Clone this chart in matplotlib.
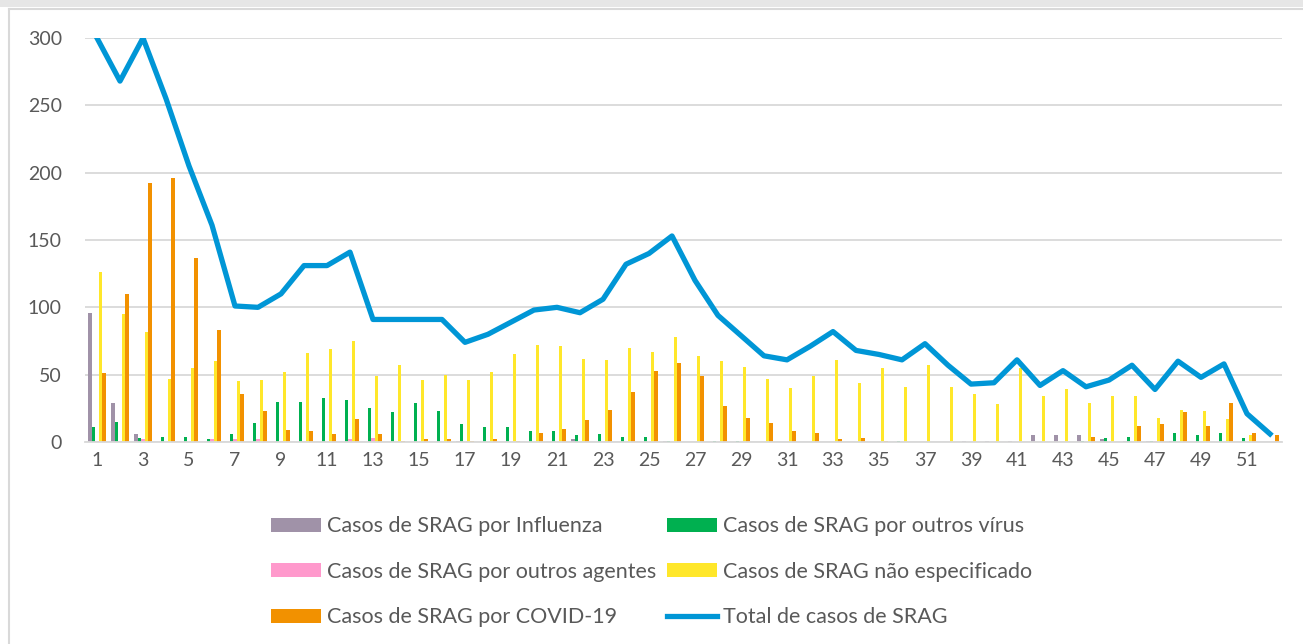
import numpy as np
import matplotlib
matplotlib.use("Agg")
import matplotlib.pyplot as plt
from matplotlib.lines import Line2D
from matplotlib.patches import Patch, Rectangle

plt.rcParams['font.family'] = ['Lato', 'DejaVu Sans']

# semanas epidemiológicas
semanas = list(range(1, 53))

influenza = [96, 29, 6, 0, 0, 0, 0, 0, 0, 0, 0, 0, 0, 0, 0, 0, 1, 0, 0, 0,
             0, 2, 0, 0, 0, 1, 0, 0, 0, 0, 0, 0, 0, 0, 0, 0, 0, 0, 1, 1,
             1, 5, 5, 5, 2, 1, 1, 1, 0, 0, 0, 0]
outros_virus = [11, 15, 3, 4, 4, 2, 6, 14, 30, 30, 33, 31, 25, 22, 29, 23, 13, 11, 11, 8,
                8, 5, 6, 4, 4, 1, 0, 1, 1, 0, 0, 0, 0, 0, 0, 1, 0, 0, 0, 0,
                0, 0, 0, 1, 3, 4, 1, 7, 5, 7, 3, 0]
outros_agentes = [1, 1, 2, 0, 0, 2, 2, 2, 1, 1, 0, 2, 3, 0, 0, 0, 0, 0, 0, 0,
                  0, 0, 1, 0, 0, 0, 0, 0, 0, 0, 0, 0, 0, 0, 0, 0, 0, 0, 0, 0,
                  0, 0, 0, 0, 0, 0, 1, 0, 0, 0, 0, 0]
nao_especificado = [126, 95, 82, 47, 55, 60, 45, 46, 52, 66, 69, 75, 49, 57, 46, 50, 46, 52, 65, 72,
                    71, 62, 61, 70, 67, 78, 64, 60, 56, 47, 40, 49, 61, 44, 55, 41, 57, 41, 36, 28,
                    55, 34, 39, 29, 34, 34, 18, 24, 23, 17, 5, 0]
covid = [51, 110, 192, 196, 137, 83, 36, 23, 9, 8, 6, 17, 6, 1, 2, 2, 1, 2, 1, 7,
         10, 16, 24, 37, 53, 59, 49, 27, 18, 14, 8, 7, 2, 3, 1, 0, 0, 0, 0, 0,
         0, 0, 0, 4, 0, 12, 13, 22, 12, 29, 7, 5]
total = [300, 268, 300, 255, 205, 161, 101, 100, 110, 131, 131, 141, 91, 91, 91, 91, 74, 80, 89, 98,
         100, 96, 106, 132, 140, 153, 120, 94, 79, 64, 61, 71, 82, 68, 65, 61, 73, 57, 43, 44,
         61, 42, 53, 41, 46, 57, 39, 60, 48, 58, 21, 6]

series = [
    ("Casos de SRAG por Influenza", influenza, "#A092A8"),
    ("Casos de SRAG por outros vírus", outros_virus, "#00B050"),
    ("Casos de SRAG por outros agentes", outros_agentes, "#FF99CC"),
    ("Casos de SRAG não especificado", nao_especificado, "#FFE72A"),
    ("Casos de SRAG por COVID-19", covid, "#F29100"),
]
cor_total = "#0096D6"
cinza = "#595959"

fig = plt.figure(figsize=(13.03, 6.44), dpi=100)
ax = fig.add_axes([85.5 / 1303, 202 / 644, 1196 / 1303, 404 / 644])

x = np.array(semanas)
w = 0.148
for i, (nome, vals, cor) in enumerate(series):
    ax.bar(x + (i - 2) * w, vals, width=w, color=cor, linewidth=0, zorder=2)

ax.plot(x, total, color=cor_total, linewidth=3.8, zorder=3)

ax.set_xlim(0.5, 52.5)
ax.set_ylim(0, 300)
ax.set_yticks(range(0, 301, 50))
ax.set_xticks(range(1, 53, 2))
ax.grid(axis='y', color='#D9D9D9', linewidth=1.3, zorder=0)
ax.set_axisbelow(True)
for s in ['top', 'right', 'left']:
    ax.spines[s].set_visible(False)
ax.spines['bottom'].set_color('#D9D9D9')
ax.spines['bottom'].set_linewidth(1.3)
ax.tick_params(axis='both', length=0, labelsize=14, labelcolor=cinza)
ax.tick_params(axis='y', pad=17)
ax.tick_params(axis='x', pad=7)

# legenda (ordem por colunas)
h = {nome: Patch(facecolor=cor, edgecolor='none') for nome, _, cor in series}
linha = Line2D([0], [0], color=cor_total, linewidth=3.8)
nomes = [series[0][0], series[2][0], series[4][0],
         series[1][0], series[3][0], "Total de casos de SRAG"]
handles = [h[nomes[0]], h[nomes[1]], h[nomes[2]], h[nomes[3]], h[nomes[4]], linha]
fig.legend(handles, nomes, ncol=2, loc='center', bbox_to_anchor=(0.5, 0.112),
           frameon=False, fontsize=15.5, labelcolor=cinza, handlelength=2.32,
           handleheight=0.6, handletextpad=0.28, columnspacing=0.5, labelspacing=1.18)

# moldura
fig.patches.append(Rectangle((0, 1 - 7 / 644), 1, 7 / 644, transform=fig.transFigure,
                             facecolor='#E6E6E6', edgecolor='none'))
fig.add_artist(Line2D([9 / 1303, 1], [1 - 9 / 644, 1 - 9 / 644], transform=fig.transFigure,
                      color='#D9D9D9', linewidth=1.5))
fig.add_artist(Line2D([9 / 1303, 9 / 1303], [0, 1 - 9 / 644], transform=fig.transFigure,
                      color='#D9D9D9', linewidth=1.5))

fig.savefig("out.png", dpi=100)
